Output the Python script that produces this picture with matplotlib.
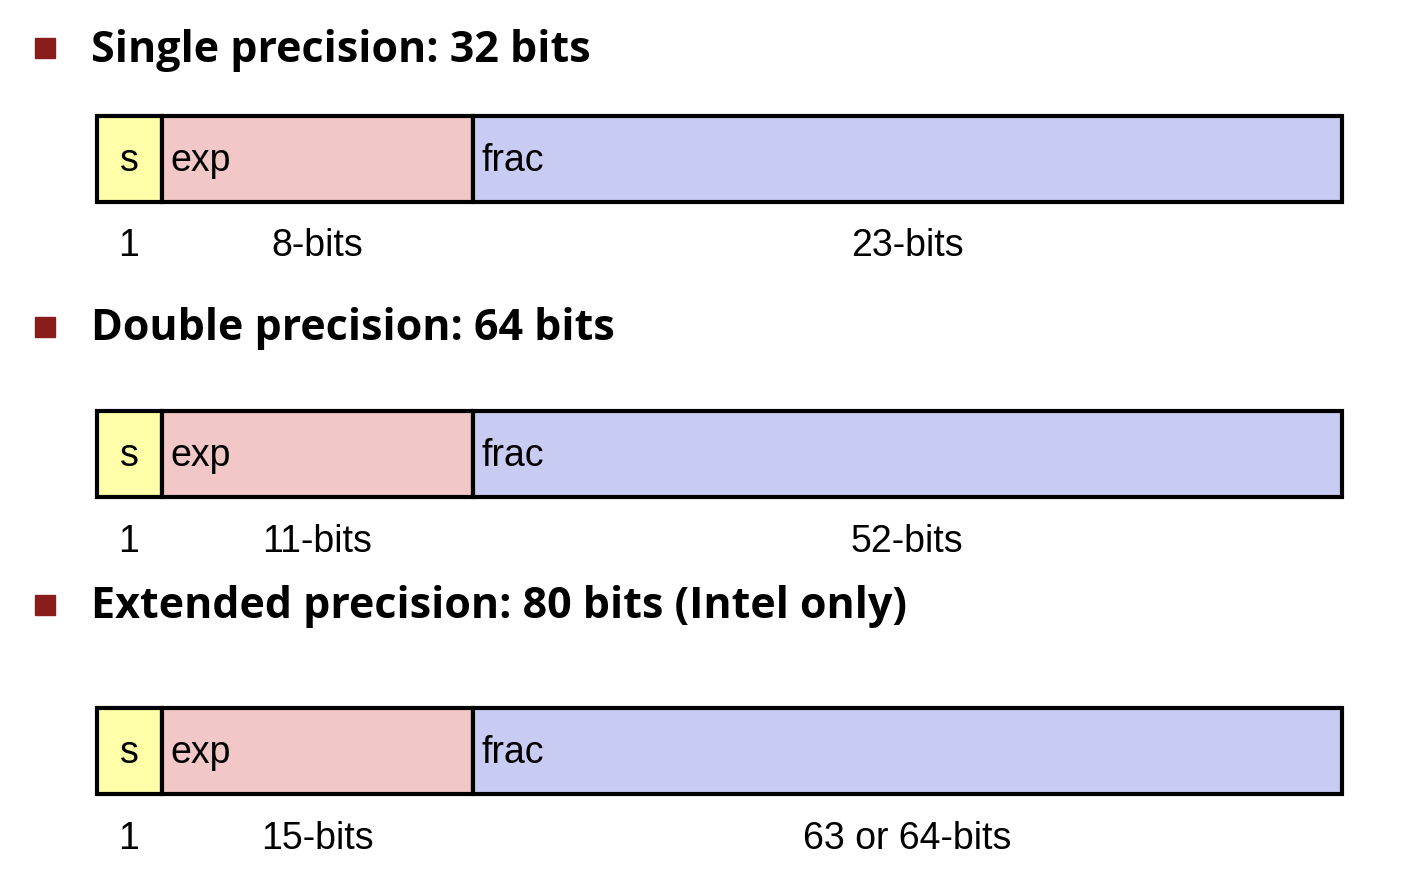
import matplotlib
matplotlib.use("Agg")
import matplotlib.pyplot as plt
from matplotlib.patches import Rectangle

headings = ["Single precision: 32 bits", "Double precision: 64 bits",
            "Extended precision: 80 bits (Intel only)"]
field_names = ["s", "exp", "frac"]
sign_bits = ["1", "1", "1"]
exp_bits = ["8-bits", "11-bits", "15-bits"]
frac_bits = ["23-bits", "52-bits", "63 or 64-bits"]

fig = plt.figure(figsize=(14.08, 8.86), dpi=100)
ax = fig.add_axes([0, 0, 1, 1])
ax.set_xlim(0, 1408); ax.set_ylim(886, 0); ax.axis("off")

head_y = [50, 329, 607]
box_top = [116, 411, 708]
box_h = 86
label_y = [246, 542, 839]
edges = [97, 162, 473, 1342]
colors = ["#FFFFAA", "#F2C7C7", "#C9CCF2"]
lab_font = dict(family="Liberation Sans", fontsize=27, va="center")

for i in range(3):
    ax.add_patch(Rectangle((35, head_y[i] - 12), 20, 20, color="#8B1C1C"))
    ax.text(91, head_y[i], headings[i], fontsize=31, fontweight="bold",
            family="Open Sans", va="center", ha="left")
    for j in range(3):
        ax.add_patch(Rectangle((edges[j], box_top[i]), edges[j+1] - edges[j], box_h,
                               facecolor=colors[j], edgecolor="black", lw=3))
    cy = box_top[i] + box_h / 2 + 2
    ax.text(129, cy, field_names[0], ha="center", **lab_font)
    ax.text(170, cy, field_names[1], ha="left", **lab_font)
    ax.text(481, cy, field_names[2], ha="left", **lab_font)
    ax.text(129, label_y[i], sign_bits[i], ha="center", **lab_font)
    ax.text(317, label_y[i], exp_bits[i], ha="center", **lab_font)
    ax.text(907, label_y[i], frac_bits[i], ha="center", **lab_font)

fig.savefig("out.png", dpi=100, facecolor="white")
